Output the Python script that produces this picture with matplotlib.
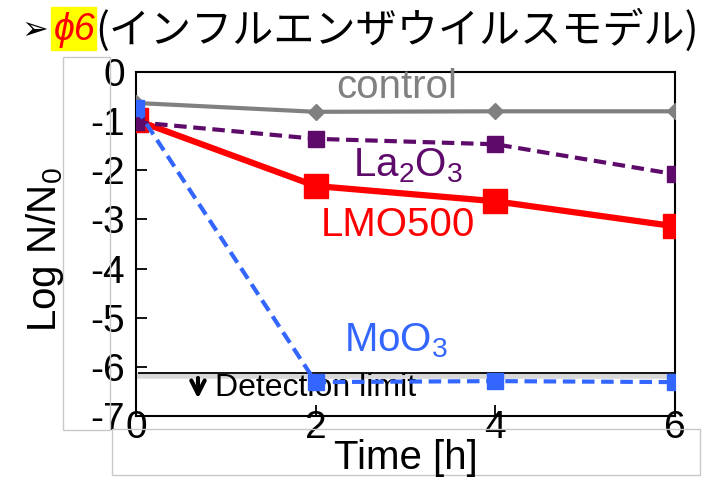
import matplotlib
matplotlib.use("Agg")
import matplotlib.pyplot as plt
from matplotlib.patches import Rectangle

# data
time_h = [0, 2, 4, 6]
control = [-0.63, -0.81, -0.80, -0.80]
la2o3 = [-1.02, -1.36, -1.47, -2.08]
lmo500 = [-0.98, -2.32, -2.63, -3.14]
moo3 = [-0.73, -6.31, -6.29, -6.31]
detection_limit = -6.13
x_ticks = [0, 2, 4, 6]
y_ticks = [0, -1, -2, -3, -4, -5, -6, -7]

plt.rcParams['font.family'] = ['Liberation Sans', 'DejaVu Sans']
plt.rcParams['mathtext.fontset'] = 'custom'
plt.rcParams['mathtext.rm'] = 'Liberation Sans'
plt.rcParams['mathtext.it'] = 'Liberation Sans:italic'
plt.rcParams['axes.unicode_minus'] = False

W, H = 702, 480
fig = plt.figure(figsize=(W / 100, H / 100), dpi=100)


def fx(px):
    return px / W


def fy(py):
    return 1 - py / H


# light gray frames of the slide text boxes
box_col = '#c8c8c8'
fig.patches.append(Rectangle((fx(63), fy(430)), fx(110) - fx(63), fy(57) - fy(430),
                             transform=fig.transFigure, fill=False, ec=box_col, lw=1, zorder=0))
fig.patches.append(Rectangle((fx(112), fy(475)), fx(700) - fx(112), fy(429) - fy(475),
                             transform=fig.transFigure, fill=False, ec=box_col, lw=1, zorder=0))

ax = fig.add_axes([fx(136), fy(416), fx(675) - fx(136), fy(72) - fy(416)])

ax.plot(time_h, control, color='#808080', lw=3, marker='D', ms=8, zorder=3)
ax.plot(time_h, lmo500, color='#ff0000', lw=4.5, marker='s', ms=17, zorder=4)
ax.plot(time_h, la2o3, color='#5e0a6a', lw=3, ls=(0, (3, 1.6)), marker='s', ms=11, zorder=5)
ax.plot(time_h, moo3, color='#3366ff', lw=3, ls=(0, (3, 1.6)), marker='s', ms=12, zorder=6)

# detection limit line with soft shadow
ax.plot([0.03, 6], [detection_limit - 0.06, detection_limit - 0.06], color='#d8d8d8', lw=4, zorder=1)
ax.plot([0.03, 6], [detection_limit, detection_limit], color='black', lw=1.3, zorder=2)
ax.annotate('', xy=(0.69, -6.7), xytext=(0.69, -6.17),
            arrowprops=dict(arrowstyle='->', color='black', lw=3, mutation_scale=24))
ax.text(0.88, -6.43, 'Detection limit', fontsize=23, va='center', ha='left')

ax.text(2.9, -0.31, 'control', color='#808080', fontsize=29, ha='center', va='center')
ax.text(3.03, -1.9, r'La$_2$O$_3$', color='#5e0a6a', fontsize=29, ha='center', va='center')
ax.text(2.92, -3.12, 'LMO500', color='#ff0000', fontsize=29, ha='center', va='center')
ax.text(2.9, -5.46, r'MoO$_3$', color='#3366ff', fontsize=29, ha='center', va='center')

ax.set_xlim(0, 6)
ax.set_ylim(-7, 0)
ax.set_xticks(x_ticks)
ax.set_yticks(y_ticks)
ax.tick_params(direction='in', length=8, width=1.3, labelsize=28)
ax.tick_params(axis='x', pad=-4)
ax.tick_params(axis='y', pad=8)
for s in ax.spines.values():
    s.set_linewidth(1.5)

fig.text(fx(45), fy(250), r'Log N/N$_0$', rotation=90, fontsize=29, ha='center', va='center')
fig.text(fx(406), fy(458), 'Time [h]', fontsize=29, ha='center', va='center')

# slide title
fig.text(fx(21), fy(31), '\u27a2', family='DejaVu Sans', fontsize=23, ha='left', va='center')
fig.patches.append(Rectangle((fx(51), fy(50)), fx(96) - fx(51), fy(7) - fy(50),
                             transform=fig.transFigure, color='#ffff00', zorder=0))
fig.text(fx(54), fy(30), '\u03d56', color='#ff0000', style='italic', fontsize=27,
         family=['Liberation Sans', 'DejaVu Sans'], ha='left', va='center')
fig.text(fx(95), fy(30), '(インフルエンザウイルスモデル)', fontsize=29.6,
         family=['Noto Sans CJK JP', 'DejaVu Sans'], ha='left', va='center')

fig.savefig('out.png', dpi=100)
